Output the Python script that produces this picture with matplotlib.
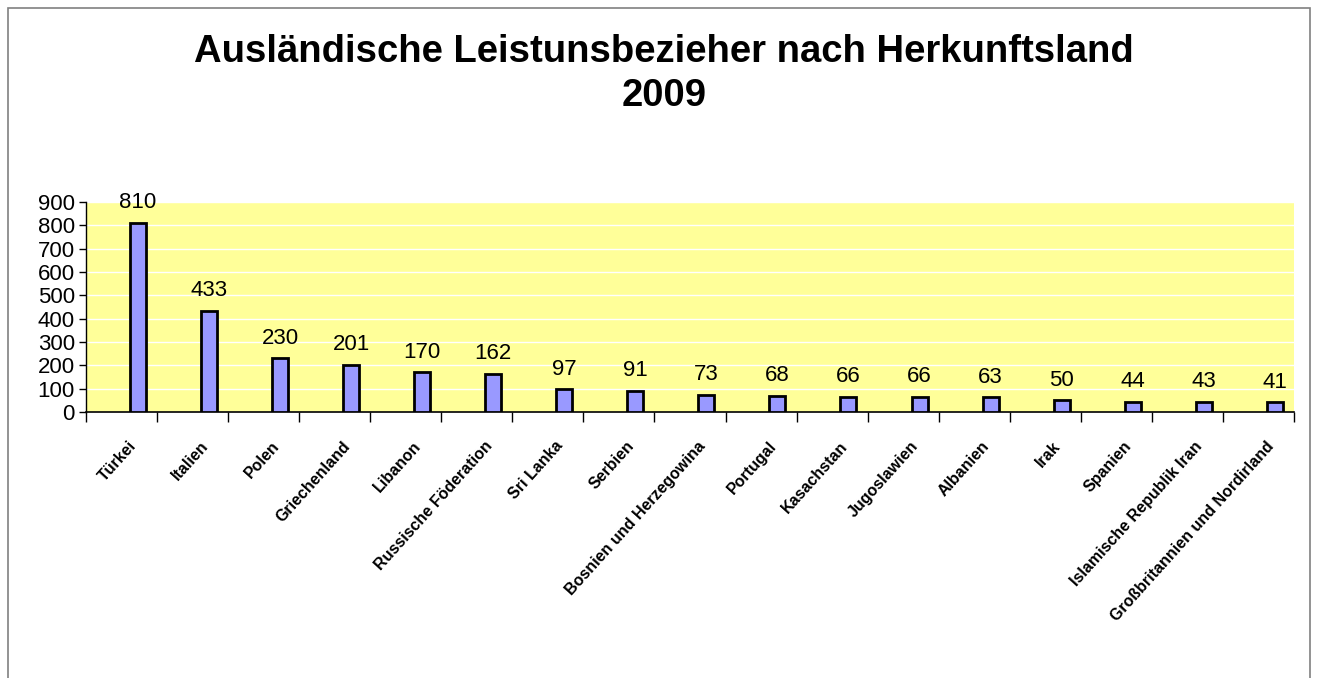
import numpy as np
import matplotlib.pyplot as plt
from matplotlib.patches import Rectangle

plt.rcParams['font.family'] = ['Liberation Sans', 'DejaVu Sans']

# --- Data ---
countries = ['Türkei', 'Italien', 'Polen', 'Griechenland', 'Libanon',
             'Russische Föderation', 'Sri Lanka', 'Serbien',
             'Bosnien und Herzegowina', 'Portugal', 'Kasachstan',
             'Jugoslawien', 'Albanien', 'Irak', 'Spanien',
             'Islamische Republik Iran', 'Großbritannien und Nordirland']
values = [810, 433, 230, 201, 170, 162, 97, 91, 73, 68, 66, 66, 63, 50, 44, 43, 41]
yticks = list(range(0, 1000, 100))

# --- Figure ---
fig = plt.figure(figsize=(13.18, 6.78), dpi=100)
fig.patch.set_facecolor('white')
fig.patches.append(Rectangle((8 / 1318, -0.05), 1302 / 1318, 1.05 - 8 / 678,
                             transform=fig.transFigure, fill=False,
                             edgecolor='#808080', linewidth=1.2))

ax = fig.add_axes([86 / 1318, 1 - 412 / 678, 1208 / 1318, 210 / 678])
ax.set_facecolor('#FFFF99')

n = len(values)
x = np.arange(n)
bar_pos = x + 0.73
bars = ax.bar(bar_pos, values, width=0.225, color='#9999FF',
              edgecolor='black', linewidth=2, zorder=3)

for xp, v in zip(bar_pos, values):
    ax.annotate(str(v), (xp, v), xytext=(0, 7), textcoords='offset points',
                ha='center', va='bottom', fontsize=16, zorder=4,
                annotation_clip=False)

ax.set_xlim(0, n)
ax.set_ylim(0, 900)
ax.set_yticks(yticks)
ax.tick_params(axis='y', labelsize=16, length=5, width=1, direction='out', pad=3)
ax.yaxis.grid(True, color='white', linewidth=1, zorder=0)
ax.set_axisbelow(True)

# category boundaries as ticks, labels near bar centres
ax.set_xticks(np.arange(n + 1), minor=True)
ax.tick_params(axis='x', which='minor', length=7, width=1, direction='out')
ax.set_xticks(x + 0.6)
ax.set_xticklabels(countries, rotation=48, ha='right', rotation_mode='anchor',
                   fontsize=11.5, fontweight='bold')
ax.tick_params(axis='x', which='major', length=0, pad=19)

for s in ['top', 'right']:
    ax.spines[s].set_visible(False)
ax.spines['left'].set_linewidth(1)
ax.spines['bottom'].set_linewidth(1.2)

fig.text(0.504, 1 - 52 / 678, 'Ausländische Leistunsbezieher nach Herkunftsland',
         ha='center', va='center', fontsize=27.5, fontweight='bold')
fig.text(0.504, 1 - 96 / 678, '2009',
         ha='center', va='center', fontsize=27.5, fontweight='bold')

fig.savefig('out.png', dpi=100)
